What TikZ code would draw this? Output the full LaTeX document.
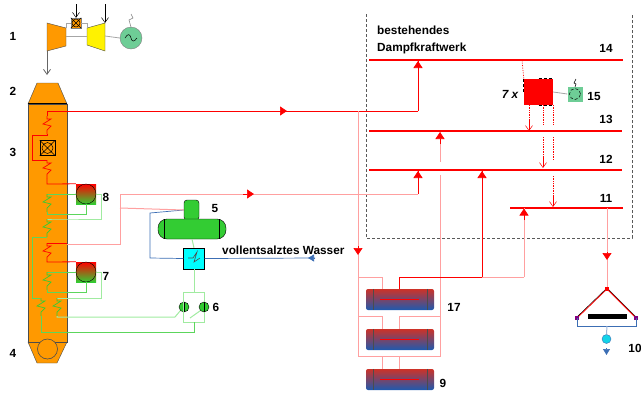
\documentclass[tikz,border=0pt]{standalone}
\usepackage{fontspec}
\setmainfont{Liberation Sans}
\usetikzlibrary{positioning, arrows.meta}
\definecolor{kessel}{RGB}{255,153,0}
\definecolor{leitung}{RGB}{254,0,0}
\definecolor{hell}{RGB}{255,160,160}
\definecolor{gruen}{RGB}{51,204,51}
\definecolor{hgruen}{RGB}{160,235,160}
\definecolor{mgruen}{RGB}{110,205,150}
\definecolor{blau}{RGB}{60,110,180}
\definecolor{tuerkis}{RGB}{0,255,255}
\definecolor{heiss}{RGB}{205,50,40}
\definecolor{kalt}{RGB}{30,90,175}
\tikzset{
    nummer/.style={font=\fontsize{11.8}{14}\selectfont\bfseries, inner sep=0pt},
    rot/.style={color=leitung, line width=0.8pt},
    hrot/.style={color=hell, line width=1pt},
    schiene/.style={color=leitung, line width=2pt},
    gn/.style={color=gruen!80!white, line width=0.8pt},
    hgn/.style={color=hgruen, line width=1pt},
    bl/.style={color=blau, line width=0.7pt},
    grau/.style={color=gray!70, line width=0.8pt},
    dampf/.style={color=leitung, line width=0.7pt, densely dotted},
    spitze/.style={-{Triangle[length=7pt,width=9pt]}, color=leitung, line width=0.7pt},
    offen/.style={-{Straight Barb[length=5pt,width=7pt]}},
    speicher/.style={minimum width=68pt, minimum height=21pt, inner sep=0pt, top color=heiss, bottom color=kalt, rounded corners=2pt},
    puffer/.style={draw=black, fill=gruen, circle, minimum size=10pt, inner sep=0pt},
    waermetauscher/.style={minimum size=20pt, inner sep=0pt, top color=red, bottom color=gruen},
    pics/coil/.style={code={\draw[pic actions] (0,0) -- (0,3) -- (4,3) -- (-4,8) -- (4,10) -- (0,14) -- (0,18);}}
}
\begin{document}
\begin{tikzpicture}[x=1pt, y=-1pt]
    \useasboundingbox (0,0) rectangle (641,392);

    \draw[densely dashed, gray!70!black, line width=0.5pt] (366,14) -- (366,238) -- (632,238) -- (632,14);

    \coordinate (W14) at (369,60);
    \coordinate (E14) at (623,60);
    \coordinate (W13) at (369,131);
    \coordinate (E13) at (622,131);
    \coordinate (W12) at (369,170);
    \coordinate (E12) at (622,170);
    \coordinate (W11) at (510,207.5);
    \coordinate (E11) at (623,207.5);
    \draw[schiene] (W14) -- (E14);
    \draw[schiene] (W13) -- (E13);
    \draw[schiene] (W12) -- (E12);
    \draw[schiene] (W11) -- (E11);

    \draw[grau] (47,51) edge[offen, black!60] (47,75);
    \fill[kessel, draw=gray!60!black] (47,23) -- (66,28) -- (66,46) -- (47,51) -- cycle;
    \fill[yellow, draw=gray!60!black] (87,28) -- (105,23) -- (105,51) -- (87,45) -- cycle;
    \node[draw=gray, fill=kessel, minimum size=10pt, inner sep=0pt](UE) at (76,23){};
    \draw[line width=0.5pt] (UE.north west) -- (UE.south east) (UE.north east) -- (UE.south west) (UE) circle (4pt);
    \node[draw=gray, fill=mgruen, circle, minimum size=22pt, inner sep=0pt](G) at (131,38){};
    \draw[line width=0.5pt] (125,38) .. controls (128,33) and (130,34) .. (131,38) .. controls (132,42) and (134,42) .. (137,38);
    \draw[grau] (66,36) -- (87,36);
    \draw[grau] (66,28) -- (66,23) -- (UE.west);
    \draw[grau] (UE.east) -- (87,23) -- (87,28);
    \draw[grau] (105,36) -- (G.west);
    \draw[offen, line width=0.5pt] (76,4) -- (UE.north);
    \draw[offen, line width=0.5pt] (105,4) -- (105,23);
    \draw[gray, line width=0.5pt] (131,14) -- (133,18) -- (129,20) -- (131,27);

    \fill[kessel, draw=gray!60!black] (37,83) -- (58,83) -- (67,104) -- (28,104) -- cycle;
    \fill[kessel, draw=gray!60!black] (28,342) -- (67,342) -- (57,363) -- (37,363) -- cycle;
    \node[draw=black!70, fill=kessel, minimum width=39pt, minimum height=238pt, inner sep=0pt](Kessel) at (47.5,223){};
    \draw[line width=1pt] (Kessel.north west) -- (Kessel.north east);
    \draw[black!70, fill=kessel, line width=0.6pt] (47.5,349) circle (10pt);
    \node[draw=black, fill=kessel, minimum size=15pt, inner sep=0pt](ZUE) at (47.5,148){};
    \draw[line width=0.5pt] (ZUE.north west) -- (ZUE.south east) (ZUE.north east) -- (ZUE.south west) (ZUE) circle (5.5pt);

    \node[waermetauscher](HX8) at (86,194){};
    \node[draw=black, circle, minimum size=20pt, inner sep=0pt, top color=red, bottom color=gruen] at (86,194){};
    \node[waermetauscher](HX7) at (86,272){};
    \node[draw=black, circle, minimum size=20pt, inner sep=0pt, top color=red, bottom color=gruen] at (86,272){};

    \draw[rot] (418,111) -- (47,111) -- (47,116);
    \pic[leitung, line width=0.7pt] at (47,116) {coil};
    \draw[rot] (47,134) -- (47,135) -- (32,135) -- (32,160) -- (47,160);
    \pic[leitung, line width=0.7pt] at (47,160) {coil};
    \draw[rot] (47,178) -- (47,184) -- (HX8.north west);
    \draw[rot] (67,243) -- (47,243);
    \pic[leitung, line width=0.7pt] at (47,243) {coil};
    \draw[rot] (47,261) -- (47,262) -- (HX7.north west);

    \draw[gn] (HX8.west) -- (47,194);
    \pic[gruen, line width=0.7pt] at (47,194) {coil};
    \draw[gn] (47,212) -- (47,214) -- (86,214) -- (HX8.south);
    \draw[hgn] (HX8.east) -- (101,194) -- (101,219) -- (56,219) -- (47,219);
    \pic[gruen, line width=0.7pt] at (47,219) {coil};
    \draw[gn] (47,237) -- (32,237) -- (32,298) -- (40,298);
    \draw[gn] (HX7.west) -- (47,272);
    \pic[gruen, line width=0.7pt] at (47,272) {coil};
    \draw[gn] (47,290) -- (47,292) -- (86,292) -- (HX7.south);
    \draw[hgn] (HX7.east) -- (101,272) -- (101,298) -- (57,298);
    \pic[gruen, line width=0.7pt] at (41,298) {coil};
    \pic[gruen, line width=0.7pt] at (57,298) {coil};

    \node[draw=black, fill=gruen, rounded corners=3pt, minimum width=15pt, minimum height=20pt, inner sep=0pt](Dom) at (191.5,210){};
    \node[draw=black, fill=gruen, rounded corners=9pt, minimum width=68pt, minimum height=20pt, inner sep=0pt](Behaelter) at (192,229){};
    \draw (164.5,219) -- (164.5,239) (219,219) -- (219,239);
    \node[draw=black, fill=tuerkis, minimum size=21pt, inner sep=0pt](Vorw) at (194,258.5){};
    \node[puffer](P1) at (184,307){};
    \node[puffer](P2) at (204,307){};
    \draw[line width=0.5pt] (P1.north) -- (P1.south) (P2.north) -- (P2.south);

    \draw[hgn] (Behaelter.south) -- (Vorw.north);
    \draw[hgn] (Vorw.south) -- (194,292);
    \draw[hgn] (183,292) -- (204,292) -- (P2.north);
    \draw[hgn] (183,292) -- (183,322) -- (204,322) -- (P2.south);
    \draw[hgn] (P1.south west) -- (175,317) -- (57,317) -- (57,316);
    \draw[hgn] (P2.south west) -- (190,318);
    \draw[gn] (194,322) -- (194,332) -- (41,332) -- (41,316);

    \draw[bl] (Dom.west) -- (150,213) -- (150,258) -- (Vorw.west);
    \draw[bl] (Vorw.east) -- (315,258);
    \draw[-{Triangle[length=6pt,width=7pt]}, blau, line width=0.7pt] (315,258) -- (308,258);
    \draw[gray!60!black, line width=0.6pt] (188,258) -- (193,258) -- (197,252) -- (194,262) -- (200,258);

    \draw[hrot] (Dom.west) -- (152,209) -- (120,208);
    \draw[hrot] (67,244) -- (120,244) -- (120,194) -- (418,194);
    \draw[hrot] (358,111) -- (358,356);
    \draw[hrot] (440,175) -- (440,356) -- (358,356);

    \draw[hrot] (358,277) -- (382,277) -- (382,299);
    \draw[rot] (399,299) -- (399,277) -- (482,277);
    \draw[hrot] (482,277) -- (524,277);
    \draw[hrot] (358,316) -- (382,316) -- (382,339);
    \draw[hrot] (399,339) -- (399,316) -- (440,316);
    \draw[hrot] (382,356) -- (382,379);
    \draw[hrot] (399,379) -- (399,356);

    \node[speicher](S1) at (400,299.5){};
    \node[speicher](S2) at (400,339.5){};
    \node[speicher](S3) at (400,379.5){};
    \foreach \s in {S1,S2,S3}{
        \draw[black!70] ([xshift=7pt]\s.north west) -- ([xshift=7pt]\s.south west);
        \draw[black!70] ([xshift=-7pt]\s.north east) -- ([xshift=-7pt]\s.south east);
        \draw[rot] ([xshift=-20pt]\s.center) -- ([xshift=19pt]\s.center);
    }

    \draw[rot] (418,111) -- (418,60);
    \draw[spitze] (418,74) -- (418,61);
    \draw[spitze] (275,111) -- (287,111);
    \draw[spitze] (243,194) -- (254,194);
    \draw[spitze] (358,246) -- (358,255);
    \draw[rot] (418,194) -- (418,170);
    \draw[spitze] (418,182) -- (418,171);
    \draw[hrot] (440,162) -- (440,132);
    \draw[spitze] (440,144) -- (440,132);
    \draw[rot] (482,277) -- (482,170);
    \draw[spitze] (482,182) -- (482,171);
    \draw[hrot] (524,277) -- (524,208);
    \draw[spitze] (524,220) -- (524,208.5);

    \node[fill=leitung, minimum width=29pt, minimum height=26pt, inner sep=0pt](T7) at (538.5,92){};
    \draw[densely dashed, line width=0.8pt] (T7.north) -- (T7.north east) (T7.south) -- (T7.south east) (T7.west) -- (T7.north west);
    \node[fill=mgruen, minimum size=15pt, inner sep=0pt](G15) at (575,94){};
    \draw[densely dashed, line width=0.5pt] (G15) circle (5.5pt);
    \draw[grau] (T7.east) -- (G15.west);
    \draw[line width=0.5pt] (576,79) -- (574,83) -- (576,84) -- (575,87);
    \draw[dampf] (522,60) -- (T7.north west);
    \draw[dampf] (529,105) -- (529,125);
    \draw[offen, color=leitung, line width=0.5pt] (529,120) -- (529,131);
    \draw[dampf] (543,105) -- (543,124);
    \draw[dampf] (543,137) -- (543,162);
    \draw[offen, color=leitung, line width=0.5pt] (543,158) -- (543,168);
    \draw[dampf] (553,105) -- (553,125);
    \draw[dampf] (553,137) -- (553,160);
    \draw[dampf] (553,176) -- (553,200);
    \draw[offen, color=leitung, line width=0.5pt] (553,197) -- (553,207);

    \draw[hrot] (607,208) -- (607,288);
    \draw[spitze] (607,252) -- (607,260);
    \coordinate (Spitze) at (607,289);
    \coordinate (LinksK) at (577,318);
    \coordinate (RechtsK) at (636,318);
    \draw[black, line width=0.6pt] ([xshift=-1pt]Spitze) -- ([xshift=-1pt]LinksK);
    \draw[black, line width=0.6pt] ([xshift=1pt]Spitze) -- ([xshift=1pt]RechtsK);
    \draw[rot] (Spitze) -- (LinksK);
    \draw[rot] (Spitze) -- (RechtsK);
    \node[fill=leitung, minimum size=4pt, inner sep=0pt] at (Spitze){};
    \node[fill=violet, minimum size=4pt, inner sep=0pt] at (LinksK){};
    \node[fill=violet, minimum size=4pt, inner sep=0pt] at (RechtsK){};
    \fill[black] (588,314) rectangle (627,319);
    \draw[bl] (LinksK) -- (577,326) -- (636,326) -- (RechtsK);
    \node[draw=blau, fill=tuerkis!70!blau, circle, minimum size=9pt, inner sep=0pt](P3) at (606.5,339){};
    \draw[color=blau!50, line width=1pt] (607,326) -- (P3.north);
    \draw[-{Triangle[length=6pt,width=7pt]}, blau, line width=0.7pt] (606.5,348) -- (606.5,355);

    \node[nummer] at (13,36) {1};
    \node[nummer] at (13,91) {2};
    \node[nummer] at (13,152) {3};
    \node[nummer] at (13,353) {4};
    \node[nummer] at (106,197) {8};
    \node[nummer] at (106,276) {7};
    \node[nummer] at (215,208) {5};
    \node[nummer] at (216,307) {6};
    \node[nummer, anchor=west] at (222,250) {vollentsalztes Wasser};
    \node[nummer, anchor=west, align=left] at (377,39.5) {bestehendes\\[3pt]Dampfkraftwerk};
    \node[nummer] at (606,48) {14};
    \node[nummer] at (606,119) {13};
    \node[nummer] at (606,159) {12};
    \node[nummer] at (606,198) {11};
    \node[nummer] at (594,96) {15};
    \node[nummer, font=\fontsize{11.8}{14}\selectfont\bfseries\itshape] at (510,94) {7 x};
    \node[nummer] at (454,307) {17};
    \node[nummer] at (443,383) {9};
    \node[nummer] at (635,348) {10};
\end{tikzpicture}
\end{document}
